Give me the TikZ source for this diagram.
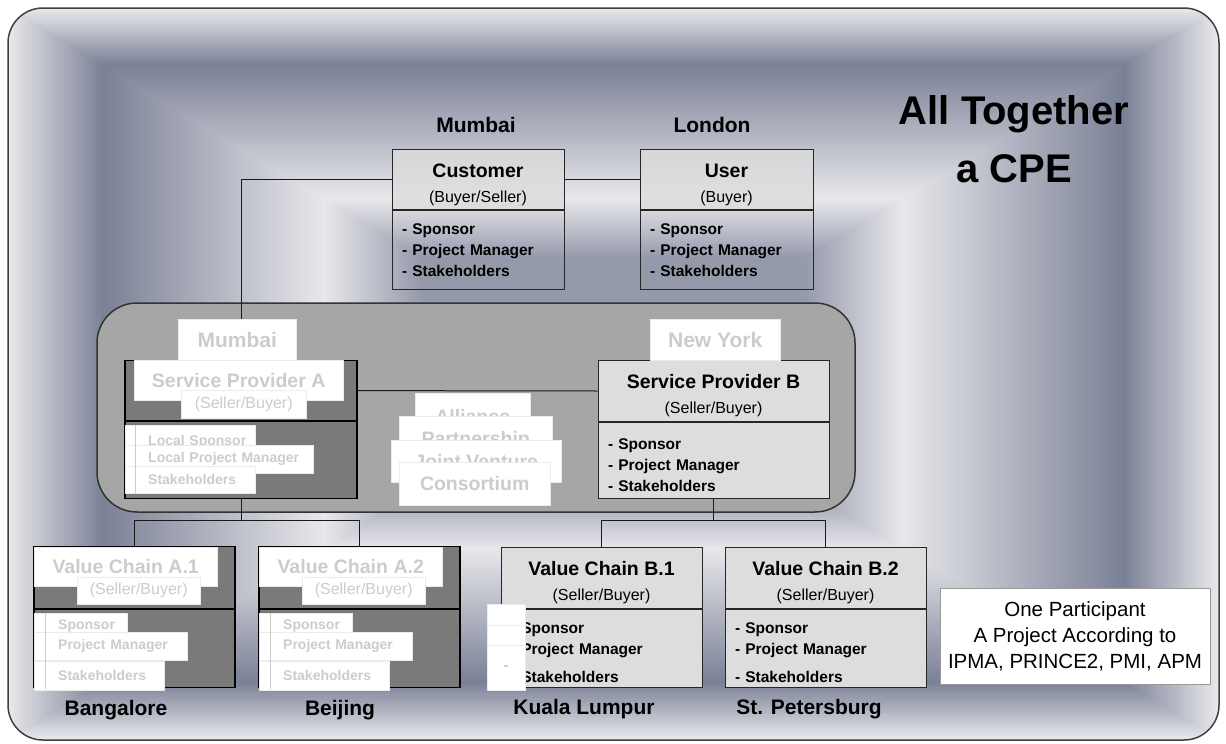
\documentclass[tikz,border=0pt]{standalone}
\usepackage{fontspec}
\setmainfont{Liberation Sans}
\usetikzlibrary{positioning}
\definecolor{bglight}{RGB}{232,232,235}
\definecolor{bgdark}{RGB}{122,128,150}
\definecolor{panelgray}{RGB}{166,166,166}
\definecolor{darkbox}{RGB}{122,122,122}
\definecolor{lightbox}{RGB}{221,221,221}
\newcommand\boxtitle{\bfseries\fontsize{19.5}{25}\selectfont}
\newcommand\hdstrut{\rule{0pt}{24pt}}
\newcommand\bdstrut{\rule{0pt}{20pt}}

\begin{document}
\begin{tikzpicture}[x=1pt,y=-1pt,
	every node/.style={inner sep=0pt},
	hdr/.style={draw=black!85,line width=1pt,anchor=north,align=center,minimum height=60pt,font=\fontsize{16}{25}\selectfont},
	bdy/.style={draw=black!85,line width=1pt,anchor=north,align=left,inner xsep=10pt,font=\bfseries\fontsize{15.5}{21}\selectfont},
	dark/.style={draw=black,line width=1.2pt,fill=darkbox,anchor=north},
	ghost/.style={fill=white,draw=black!8,line width=.4pt,anchor=north west,text=black!20},
	gline/.style={ghost,align=left,font=\bfseries\fontsize{14}{18}\selectfont},
	city/.style={font=\bfseries\fontsize{21}{25}\selectfont},
	link/.style={draw=black!90,line width=1pt}]
	\useasboundingbox (0,0) rectangle (1226,744);
	% shaded frame
	\begin{scope}
		\clip[rounded corners=35pt] (8,8) rectangle (1219,740);
		\foreach \i in {0,...,170}{
			\pgfmathsetmacro\t{0.005*\i}
			\pgfmathsetmacro\p{max(0,min(100,ifthenelse(\t<0.155,100-100*\t/0.155,ifthenelse(\t<0.52,100*(\t-0.155)/0.365,ifthenelse(\t<0.68,100-75*(\t-0.52)/0.16,25)))))}
			\fill[bglight!\p!bgdark] ({8+605*\t},{8+366*\t}) rectangle ({1219-605*\t},{740-366*\t});
		}
	\end{scope}
	\draw[rounded corners=35pt,line width=1.5pt,black!75] (8,8) rectangle (1219,740);
	\node[font=\bfseries\fontsize{40}{58}\selectfont,align=center] (title) at (1014,139) {All Together\\a CPE};
	% customer and user
	\node[city] (mumbai) at (476,125) {Mumbai};
	\node[city] (london) at (712,125) {London};
	\node[hdr,fill=lightbox,fill opacity=.8,text opacity=1,minimum width=172pt] (custh) at (478,149) {{\boxtitle\hdstrut Customer}\\(Buyer/Seller)};
	\node[bdy,text width=152pt,minimum height=79pt,below=0pt of custh] (custb) {- Sponsor\\- Project Manager\\- Stakeholders};
	\node[hdr,fill=lightbox,fill opacity=.8,text opacity=1,minimum width=173pt] (userh) at (726.5,149) {{\boxtitle\hdstrut User}\\(Buyer)};
	\node[bdy,text width=153pt,minimum height=79pt,below=0pt of userh] (userb) {- Sponsor\\- Project Manager\\- Stakeholders};
	% the CPE panel
	\node[draw=black!80,line width=1.5pt,fill=panelgray,rounded corners=40pt,minimum width=758pt,minimum height=209pt] (cpe) at (476,407.5) {};
	\node[dark,minimum width=232pt,minimum height=60pt] (spah) at (241,360) {};
	\node[dark,minimum width=232pt,minimum height=77pt,below=0pt of spah] (spab) {};
	\node[hdr,fill=lightbox,minimum width=231pt,minimum height=61pt] (spbh) at (713.5,360) {{\boxtitle\hdstrut Service Provider B}\\(Seller/Buyer)};
	\node[bdy,fill=lightbox,text width=211pt,minimum height=76pt,below=0pt of spbh] (spbb) {\bdstrut- Sponsor\\- Project Manager\\- Stakeholders};
	% value chains
	\node[dark,minimum width=201pt,minimum height=62pt] (vca1h) at (134.5,546) {};
	\node[dark,minimum width=201pt,minimum height=78pt,below=0pt of vca1h] (vca1b) {};
	\node[dark,minimum width=201pt,minimum height=62pt] (vca2h) at (359.5,546) {};
	\node[dark,minimum width=201pt,minimum height=78pt,below=0pt of vca2h] (vca2b) {};
	\node[hdr,fill=lightbox,minimum width=201pt,minimum height=61pt] (vcb1h) at (601.5,547) {{\boxtitle\hdstrut Value Chain B.1}\\(Seller/Buyer)};
	\node[bdy,fill=lightbox,text width=181pt,minimum height=78pt,below=0pt of vcb1h] (vcb1b) {\bdstrut- Sponsor\\- Project Manager\\[7pt]- Stakeholders};
	\node[hdr,fill=lightbox,minimum width=201pt,minimum height=61pt] (vcb2h) at (825.5,547) {{\boxtitle\hdstrut Value Chain B.2}\\(Seller/Buyer)};
	\node[bdy,fill=lightbox,text width=181pt,minimum height=78pt,below=0pt of vcb2h] (vcb2b) {\bdstrut- Sponsor\\- Project Manager\\[7pt]- Stakeholders};
	\node[city] (bangalore) at (116,710) {Bangalore};
	\node[city] (beijing) at (340,710) {Beijing};
	\node[city] (kuala) at (584,709) {Kuala Lumpur};
	\node[city] (peter) at (809,709) {St. Petersburg};
	% links
	\draw[link] (custh.west) -| (spah.north);
	\draw[link] (custh.east) -- (userh.west);
	\draw[link] (spah.east) -- (spbh.west);
	\draw[link] (spab.south) -- ++(0,21) coordinate (ja) -| (vca1h.north);
	\draw[link] (ja) -| (vca2h.north);
	\draw[link] (spbb.south) -- ++(0,21) coordinate (jb) -| (vcb1h.north);
	\draw[link] (jb) -| (vcb2h.north);
	% washed out labels
	\node[ghost,minimum width=118pt,minimum height=41pt,font=\bfseries\fontsize{21}{25}\selectfont] (gmum) at (178,319) {Mumbai};
	\node[ghost,minimum width=130pt,minimum height=41pt,font=\bfseries\fontsize{21}{25}\selectfont] (gny) at (650,319) {New York};
	\node[ghost,minimum width=209pt,minimum height=40pt,font=\boxtitle] (gspa) at (134,360) {Service Provider A};
	\node[ghost,minimum width=125pt,minimum height=28pt,font=\fontsize{16}{20}\selectfont] (gspas) at (181,390) {(Seller/Buyer)};
	\node[gline,text width=130pt,minimum height=34pt] (gspa-a) at (125,425) {\hspace*{23pt}Local Sponsor};
	\node[gline,text width=188pt,minimum height=28pt] (gspa-b) at (125,445) {\hspace*{23pt}Local Project Manager};
	\node[gline,text width=130pt,minimum height=27pt] (gspa-c) at (125,466) {\hspace*{23pt}Stakeholders};
	\draw[black!20] (135,425) -- (135,493);
	\foreach \x/\n/\k in {34/a1/1,259/a2/2}{
		\node[ghost,minimum width=183pt,minimum height=39pt,font=\boxtitle] (g\n-t) at (\x,547) {Value Chain A.\k};
		\node[ghost,minimum width=123pt,minimum height=27pt,font=\fontsize{16}{20}\selectfont] (g\n-s) at (\x+43,577) {(Seller/Buyer)};
		\node[gline,text width=93pt,minimum height=26pt] (g\n-a) at (\x,613) {\hspace*{24pt}Sponsor};
		\node[gline,text width=153pt,minimum height=28pt] (g\n-b) at (\x,632) {\hspace*{24pt}Project Manager};
		\node[gline,text width=130pt,minimum height=29pt] (g\n-c) at (\x,661) {\hspace*{24pt}Stakeholders};
		\draw[black!20] (\x+11,613) -- (\x+11,689);
	}
	\node[ghost,minimum width=115pt,minimum height=47pt,font=\boxtitle] (galli) at (415,393) {Alliance};
	\node[ghost,minimum width=153pt,minimum height=48pt,font=\boxtitle] (gpart) at (399,416) {Partnership};
	\node[ghost,minimum width=170pt,minimum height=42pt,font=\boxtitle] (gjv) at (391,440) {Joint Venture};
	\node[ghost,minimum width=151pt,minimum height=43pt,font=\boxtitle] (gcons) at (399,462) {Consortium};
	\node[ghost,minimum width=38pt,minimum height=21pt] (gb1a) at (487,604) {};
	\node[ghost,minimum width=38pt,minimum height=20pt] (gb1b) at (487,625) {};
	\node[ghost,minimum width=38pt,minimum height=45pt,font=\bfseries\fontsize{15.5}{21}\selectfont] (gb1c) at (487,645) {-};
	% note box
	\node[draw=black!40,fill=white,minimum width=270pt,minimum height=96pt,align=center,font=\fontsize{20.5}{26}\selectfont] (note) at (1075,636) {One Participant\\A Project According to\\IPMA, PRINCE2, PMI, APM};
\end{tikzpicture}
\end{document}
